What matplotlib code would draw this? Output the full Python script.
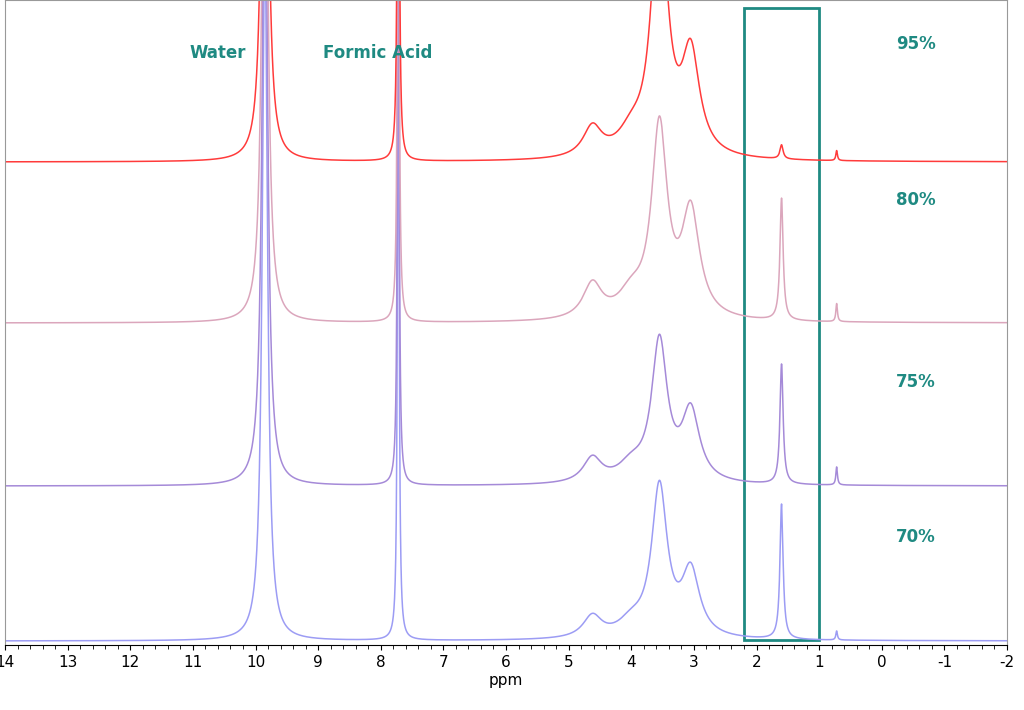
#!/usr/bin/env python3
"""Stacked 1H NMR spectra with highlighted 1.6 ppm region."""

import numpy as np
import matplotlib

matplotlib.use("Agg")
import matplotlib.pyplot as plt

# peak lists: position (ppm), height (px above baseline), half width (ppm)
peak_pos = [9.85, 7.72, 4.62, 4.0, 3.55, 3.05, 1.6, 0.72]
peak_hwhm = [0.05, 0.015, 0.18, 0.25, 0.15, 0.17, 0.03, 0.015]
heights_70 = [700, 700, 22, 14, 150, 65, 135, 9]
heights_75 = [700, 700, 25, 16, 140, 70, 120, 18]
heights_80 = [700, 700, 35, 22, 190, 105, 122, 18]
heights_95 = [700, 700, 30, 20, 260, 100, 14, 10]
baselines = [4, 159, 322, 483]  # px above axis bottom
labels = ["70%", "75%", "80%", "95%"]
label_y = [108, 263, 445, 601]
colors = ["#9c9cf4", "#a58ad8", "#dba6bc", "#ff3b3b"]


def spectrum(x, heights):
    y = np.zeros_like(x)
    for p, h, w in zip(peak_pos, heights, peak_hwhm):
        y += h / (1 + ((x - p) / w) ** 2)
    return y


fig = plt.figure(figsize=(10.24, 7.10), dpi=100)
ax = fig.add_axes([5 / 1024, 1 - 645 / 710, 1002 / 1024, 645 / 710])
x = np.linspace(-2, 14, 8000)
for h, b, c in zip([heights_70, heights_75, heights_80, heights_95], baselines, colors):
    ax.plot(x, spectrum(x, h) + b, color=c, lw=1.1)

teal = "#1f8a82"
for lab, ly in zip(labels, label_y):
    ax.text(-0.55, ly, lab, color=teal, fontsize=12, fontweight="bold", ha="center", va="center")
ax.text(10.6, 592, "Water", color=teal, fontsize=12, fontweight="bold", ha="center", va="center")
ax.text(8.05, 592, "Formic Acid", color=teal, fontsize=12, fontweight="bold", ha="center", va="center")
ax.add_patch(plt.Rectangle((1.0, 5), 1.2, 632, fill=False, ec=teal, lw=2))

ax.set_xlim(14, -2)
ax.set_ylim(0, 645)
ax.set_yticks([])
ax.set_xticks(range(-2, 15))
ax.set_xticklabels([str(v) for v in range(-2, 15)])
ax.tick_params(axis="x", labelsize=11, direction="out")
ax.minorticks_on()
ax.tick_params(axis="x", which="minor", length=3)
ax.yaxis.set_minor_locator(matplotlib.ticker.NullLocator())
ax.set_xlabel("ppm", fontsize=11, labelpad=2)
for s in ax.spines.values():
    s.set_color("#999999")
ax.spines["bottom"].set_color("black")
fig.savefig("out.png")
